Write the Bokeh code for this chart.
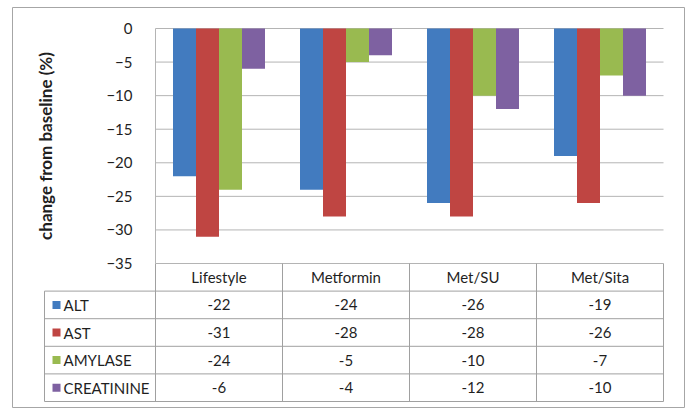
from bokeh.plotting import figure
from bokeh.models import ColumnDataSource, Range1d, FixedTicker, LinearAxis
from bokeh.core.properties import value
from bokeh.embed import file_html
from bokeh.resources import INLINE

# ---- data -------------------------------------------------------------
categories = ["Lifestyle", "Metformin", "Met/SU", "Met/Sita"]
series_names = ["ALT", "AST", "AMYLASE", "CREATININE"]
alt = [-22, -24, -26, -19]
ast = [-31, -28, -28, -26]
amylase = [-24, -5, -10, -7]
creatinine = [-6, -4, -12, -10]
y_ticks = [0, -5, -10, -15, -20, -25, -30, -35]
y_label = "change from baseline (%)"

# ---- styling ----------------------------------------------------------
colors = ["#427BBF", "#BF4542", "#99BA50", "#7E61A1"]
FONT = "Lato"
TEXT_COLOR = "#1f1f1f"
GRID_COLOR = "#b4b4b4"
TABLE_LINE = "#a0a0a0"
BORDER = "#a6a6a6"

series_values = [alt, ast, amylase, creatinine]
n_cat = len(categories)
n_rows = len(series_names)

# page geometry (pixels)
W, H = 688, 409
FR_L, FR_R, FR_T, FR_B = 12, 684, 7, 407     # framed block
PLOT_L, PLOT_T = 155, 28                     # value 0 / first category edge
CAT_PX = 127                                 # pixels per category column
Y_PX = 235 / 35.0                            # pixels per percent
TABLE_T = 263                                # top of the data table
ROW_PX = 27.6                                # table row height

x_range = Range1d((FR_L - PLOT_L) / CAT_PX, (FR_R - PLOT_L) / CAT_PX)
y_range = Range1d(-(FR_B - PLOT_T) / Y_PX, (PLOT_T - FR_T) / Y_PX)

p = figure(
    x_range=x_range, y_range=y_range,
    width=W, height=H,
    min_border_left=FR_L, min_border_right=W - FR_R,
    min_border_top=FR_T, min_border_bottom=H - FR_B,
    x_axis_location=None, y_axis_location=None,
    output_backend="svg", toolbar_location=None,
)
p.outline_line_color = BORDER
p.outline_line_width = 1
p.background_fill_color = "white"
p.border_fill_color = "white"
p.xgrid.grid_line_color = None
p.ygrid.grid_line_color = None

# table rows live on their own vertical scale
p.extra_y_ranges = {
    "table": Range1d((FR_B - TABLE_T) / ROW_PX, (FR_T - TABLE_T) / ROW_PX)
}

# ---- horizontal gridlines across the category area --------------------
p.segment(x0=[0] * len(y_ticks), x1=[n_cat] * len(y_ticks),
          y0=y_ticks, y1=y_ticks, line_color=GRID_COLOR, line_width=1)

# ---- value axis pinned to the first category edge ---------------------
yax = LinearAxis(fixed_location=0, ticker=FixedTicker(ticks=y_ticks),
                 bounds=(min(y_ticks), max(y_ticks)))
yax.axis_line_color = GRID_COLOR
yax.major_tick_line_color = None
yax.minor_tick_line_color = None
yax.major_label_standoff = 17
yax.major_label_text_font = FONT
yax.major_label_text_font_size = "15px"
yax.major_label_text_color = TEXT_COLOR
yax.axis_label = y_label
yax.axis_label_text_font = FONT
yax.axis_label_text_font_size = "17px"
yax.axis_label_text_font_style = "bold"
yax.axis_label_text_color = TEXT_COLOR
yax.axis_label_standoff = 47
p.add_layout(yax, "left")

# ---- clustered bars ---------------------------------------------------
bar_w = 23 / CAT_PX
for i, (name, vals, col) in enumerate(zip(series_names, series_values, colors)):
    off = (i - (n_rows - 1) / 2) * bar_w
    src = ColumnDataSource({"x": [c + 0.5 + off for c in range(n_cat)], "v": vals})
    p.vbar(x="x", top="v", bottom=0, width=bar_w, source=src,
           fill_color=col, line_color=None)

# ---- data table -------------------------------------------------------
legend_left = -111 / CAT_PX
rows = list(range(1, n_rows + 2))
p.segment(x0=[legend_left] * len(rows), x1=[n_cat] * len(rows),
          y0=rows, y1=rows, y_range_name="table",
          line_color=TABLE_LINE, line_width=1)
p.segment(x0=list(range(n_cat + 1)), x1=list(range(n_cat + 1)),
          y0=[0] * (n_cat + 1), y1=[n_rows + 1] * (n_cat + 1),
          y_range_name="table", line_color=TABLE_LINE, line_width=1)
p.segment(x0=[legend_left], x1=[legend_left], y0=[1], y1=[n_rows + 1],
          y_range_name="table", line_color=TABLE_LINE, line_width=1)

# header row with category names
p.text(x=[c + 0.5 for c in range(n_cat)], y=[0.5] * n_cat, text=categories,
       y_range_name="table", text_align="center", text_baseline="middle",
       text_font=value(FONT), text_font_size="15px", text_color=TEXT_COLOR)

# value rows
xs, ys, txt = [], [], []
for r, vals in enumerate(series_values):
    for c, v in enumerate(vals):
        xs.append(c + 0.5)
        ys.append(r + 1.5)
        txt.append(f"{v:g}")
p.text(x=xs, y=ys, text=txt, y_range_name="table",
       text_align="center", text_baseline="middle",
       text_font=value(FONT), text_font_size="15px", text_color=TEXT_COLOR)

# legend keys and series names
key_x = legend_left + 12 / CAT_PX
row_mid = [r + 1.5 for r in range(n_rows)]
p.scatter(x=[key_x] * n_rows, y=row_mid, y_range_name="table",
          marker="square", size=8, fill_color=colors, line_color=None)
p.text(x=[key_x + 7 / CAT_PX] * n_rows, y=row_mid, text=series_names,
       y_range_name="table", text_align="left", text_baseline="middle",
       text_font=value(FONT), text_font_size="15px", text_color=TEXT_COLOR)

open("out.html", "w").write(file_html(p, INLINE))
